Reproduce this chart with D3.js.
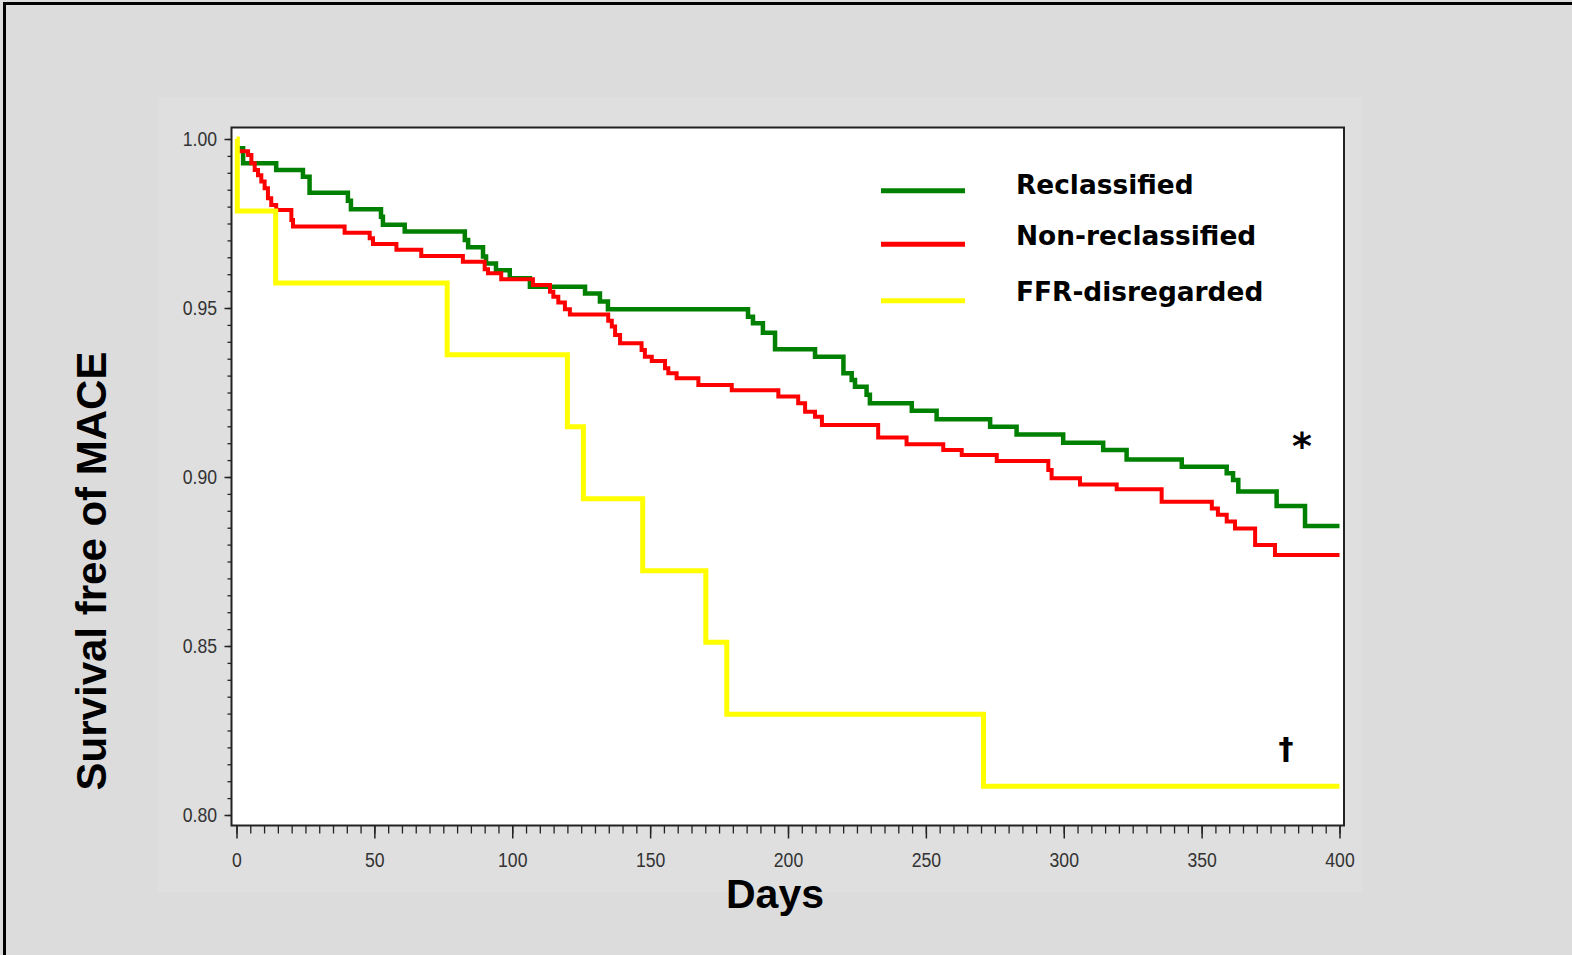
<!DOCTYPE html>
<html>
<head>
<meta charset="utf-8">
<script src="https://cdn.jsdelivr.net/npm/d3@7"></script>
<style>
  html, body { margin: 0; padding: 0; background: #dcdcdc; }
  svg { display: block; }
</style>
</head>
<body>
<svg id="chart" width="1572" height="955"></svg>
<script>
// ---------------- data ----------------
const seriesNames = ["Reclassified", "Non-reclassified", "FFR-disregarded"];
const seriesColors = ["#008000", "#ff0000", "#ffff00"];

const reclassDays = [0, 2.4, 14.4, 24.1, 26.5, 40.4, 41.5, 52.4, 53.1, 61.0, 82.8, 84.0, 89.4, 90.5, 94.1, 99.1, 106.4, 126.4, 131.8, 134.7, 185.5, 187.3, 190.9, 195.3, 209.8, 220.1, 223.1, 224.3, 228.5, 229.7, 244.9, 253.9, 273.3, 282.9, 299.8, 314.3, 322.8, 342.8, 359.1, 361.4, 363.3, 377.2, 387.5, 400];
const reclassSurv = [0.9973, 0.9928, 0.9908, 0.9888, 0.9841, 0.9817, 0.9792, 0.9770, 0.9746, 0.9726, 0.9701, 0.9680, 0.9652, 0.9632, 0.9612, 0.9588, 0.9563, 0.9543, 0.9519, 0.9496, 0.9474, 0.9455, 0.9427, 0.9378, 0.9356, 0.9307, 0.9287, 0.9267, 0.9243, 0.9218, 0.9196, 0.9171, 0.9149, 0.9126, 0.9101, 0.9080, 0.9052, 0.9030, 0.9011, 0.8991, 0.8957, 0.8914, 0.8855, 0.8855];

const nonReclassDays = [0, 4.2, 5.4, 6.6, 7.8, 9.0, 10.2, 11.4, 12.6, 14.4, 19.9, 20.5, 39.2, 48.3, 49.5, 58.0, 67.0, 82.1, 90.0, 91.2, 96.0, 107.5, 113.7, 114.9, 116.7, 119.1, 120.9, 134.8, 136.1, 137.3, 139.1, 146.9, 148.1, 150.6, 155.4, 156.6, 159.6, 167.5, 179.6, 196.5, 203.7, 206.2, 209.8, 212.3, 232.7, 243.0, 256.3, 263.0, 275.7, 294.4, 295.6, 305.9, 319.2, 335.5, 353.7, 355.9, 359.1, 362.1, 369.4, 376.6, 400];
const nonReclassSurv = [0.9964, 0.9953, 0.9928, 0.9908, 0.9893, 0.9874, 0.9854, 0.9825, 0.9805, 0.9790, 0.9760, 0.9741, 0.9723, 0.9706, 0.9689, 0.9672, 0.9654, 0.9637, 0.9615, 0.9603, 0.9585, 0.9568, 0.9548, 0.9533, 0.9516, 0.9496, 0.9481, 0.9462, 0.9445, 0.9420, 0.9396, 0.9376, 0.9356, 0.9343, 0.9322, 0.9307, 0.9292, 0.9272, 0.9257, 0.9238, 0.9218, 0.9193, 0.9178, 0.9154, 0.9117, 0.9097, 0.9080, 0.9065, 0.9047, 0.9021, 0.8996, 0.8978, 0.8964, 0.8927, 0.8907, 0.8888, 0.8868, 0.8848, 0.8799, 0.8769, 0.8769];

const ffrDays = [0, 0.3, 14.2, 76.4, 120.0, 125.8, 147.3, 170.2, 177.8, 270.9, 400];
const ffrSurv = [1.0, 0.9787, 0.9574, 0.9362, 0.9149, 0.8936, 0.8723, 0.8511, 0.8298, 0.8085, 0.8085];

const xTicks = [0, 50, 100, 150, 200, 250, 300, 350, 400];
const yTicks = [0.80, 0.85, 0.90, 0.95, 1.00];
const xTitle = "Days";
const yTitle = "Survival free of MACE";
const markReclass = "*";
const markFfr = "\u2020";

// ---------------- drawing ----------------
const svg = d3.select("#chart");
const W = 1572, H = 955;

svg.append("rect").attr("x", 0).attr("y", 0).attr("width", W).attr("height", H).attr("fill", "#dcdcdc");
svg.append("rect").attr("x", 4.5).attr("y", 3.5).attr("width", W + 20).attr("height", H + 20)
  .attr("fill", "none").attr("stroke", "#000").attr("stroke-width", 3);
svg.append("rect").attr("x", 158).attr("y", 97).attr("width", 1205).attr("height", 795).attr("fill", "#dfdfdf");

const x = d3.scaleLinear().domain([0, 400]).range([236.5, 1339.5]);
const y = d3.scaleLinear().domain([0.80, 1.00]).range([815, 139]);

const frameL = 231.5, frameT = 127.5, frameR = 1344, frameB = 825.5;
svg.append("rect").attr("x", frameL).attr("y", frameT).attr("width", frameR - frameL).attr("height", frameB - frameT)
  .attr("fill", "#fff").attr("stroke", "#222").attr("stroke-width", 2);

const sx = 0.84;
const labelFont = "'Liberation Sans', Arial, sans-serif";

// y axis minor
const yMinor = d3.range(0, 41).map(i => 0.80 + i * 0.005);
svg.append("g").attr("transform", `translate(${frameL},0)`)
  .call(d3.axisLeft(y).tickValues(yMinor).tickSize(4).tickFormat(""))
  .call(g => g.select(".domain").remove())
  .call(g => g.selectAll("line").attr("stroke", "#222").attr("stroke-width", 1.3));
// y axis major
const gy = svg.append("g").attr("transform", `translate(${frameL},0)`)
  .call(d3.axisLeft(y).tickValues(yTicks).tickSize(7).tickPadding(7.5).tickFormat(d3.format(".2f")));
gy.select(".domain").remove();
gy.selectAll("line").attr("stroke", "#222").attr("stroke-width", 1.5);
gy.selectAll("text").attr("font-family", labelFont).attr("font-size", 21).attr("fill", "#333")
  .attr("x", function () { return +this.getAttribute("x") / sx; })
  .attr("transform", `scale(${sx},1)`);

// x axis minor
const xMinor = d3.range(0, 81).map(i => i * 5);
svg.append("g").attr("transform", `translate(0,${frameB})`)
  .call(d3.axisBottom(x).tickValues(xMinor).tickSize(8).tickFormat(""))
  .call(g => g.select(".domain").remove())
  .call(g => g.selectAll("line").attr("stroke", "#222").attr("stroke-width", 1.3));
const gx = svg.append("g").attr("transform", `translate(0,${frameB})`)
  .call(d3.axisBottom(x).tickValues(xTicks).tickSize(13).tickPadding(13.5).tickFormat(d3.format("d")));
gx.select(".domain").remove();
gx.selectAll("line").attr("stroke", "#222").attr("stroke-width", 1.5);
gx.selectAll("text").attr("font-family", labelFont).attr("font-size", 21).attr("fill", "#333")
  .attr("transform", `scale(${sx},1)`);

// curves
const line = d3.line().x(d => x(d[0])).y(d => y(d[1])).curve(d3.curveStepAfter);
const series = [
  { days: reclassDays, surv: reclassSurv, color: seriesColors[0], w: 4.5 },
  { days: nonReclassDays, surv: nonReclassSurv, color: seriesColors[1], w: 4 },
  { days: ffrDays, surv: ffrSurv, color: seriesColors[2], w: 5 }
];
series.forEach(s => {
  const pts = s.days.map((d, i) => [d, s.surv[i]]);
  svg.append("path").attr("d", line(pts)).attr("fill", "none")
    .attr("stroke", s.color).attr("stroke-width", s.w).attr("stroke-linejoin", "miter").attr("stroke-linecap", "butt");
});

// legend
const legY = [190.7, 244.3, 300.7];
const legTextY = [193.5, 244.5, 301.3];
seriesNames.forEach((n, i) => {
  svg.append("line").attr("x1", 881).attr("x2", 965).attr("y1", legY[i]).attr("y2", legY[i])
    .attr("stroke", seriesColors[i]).attr("stroke-width", 5);
  svg.append("text").attr("x", 1016).attr("y", legTextY[i]).text(n)
    .attr("font-family", "'DejaVu Sans', Verdana, sans-serif").attr("font-weight", "bold")
    .attr("font-size", 26.4).attr("fill", "#000");
});

// significance marks
svg.append("text").attr("x", 1302).attr("y", 459).attr("text-anchor", "middle").text(markReclass)
  .attr("font-family", "'DejaVu Sans', sans-serif").attr("font-weight", "bold").attr("font-size", 38);
svg.append("text").attr("x", 1286).attr("y", 759).attr("text-anchor", "middle").text(markFfr)
  .attr("font-family", "'DejaVu Sans', sans-serif").attr("font-weight", "bold").attr("font-size", 30);

// titles
svg.append("text").attr("x", 775).attr("y", 908).attr("text-anchor", "middle").text(xTitle)
  .attr("font-family", "'Liberation Sans', Arial, sans-serif").attr("font-weight", "bold").attr("font-size", 41);
svg.append("text").attr("transform", "translate(106,571) rotate(-90)").attr("text-anchor", "middle").text(yTitle)
  .attr("font-family", "'Liberation Sans', Arial, sans-serif").attr("font-weight", "bold").attr("font-size", 42);
</script>
</body>
</html>
